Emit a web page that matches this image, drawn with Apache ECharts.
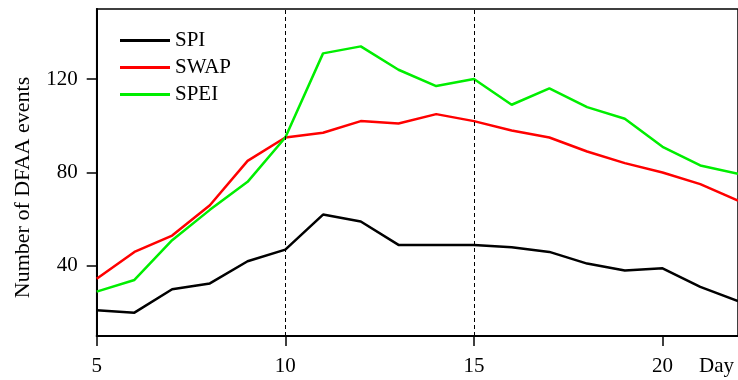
<!DOCTYPE html>
<html>
<head>
<meta charset="utf-8">
<script src="https://cdn.jsdelivr.net/npm/echarts@6/dist/echarts.min.js"></script>
<style>html,body{margin:0;padding:0;background:#fff}#c{width:738px;height:380px}</style>
</head>
<body>
<div id="c"></div>
<script>
var days = [5,6,7,8,9,10,11,12,13,14,15,16,17,18,19,20,21,22];
var spi  = [21,20,30,32.5,42,47,62,59,49,49,49,48,46,41,38,39,31,25];
var swap = [34.5,46,53,66,85,95,97,102,101,105,102,98,95,89,84,80,75,68];
var spei = [29,34,51,64,76,95,131,134,124,117,120,109,116,108,103,91,83,79.5];
var yTicks = [40,80,120];
var xTicks = [5,10,15,20];
var dashedDays = [10,15];

function pairs(vals){ return days.map(function(d,i){ return [d, vals[i]]; }); }
var FONT = "'Liberation Serif','Times New Roman',serif";
var chart = echarts.init(document.getElementById('c'), null, {renderer:'canvas'});
chart.setOption({
  animation:false,
  backgroundColor:'#fff',
  grid:{left:96.7, top:9, width:646, height:327, show:true, borderColor:'#000', borderWidth:1.5, backgroundColor:'transparent'},
  legend:{
    left:115, top:25, orient:'vertical', icon:'rect', itemWidth:50, itemHeight:3, itemGap:6,
    textStyle:{fontFamily:FONT, fontSize:21, color:'#000'},
    data:['SPI','SWAP','SPEI']
  },
  xAxis:{
    type:'value', min:5, max:22, interval:5,
    name:'Day', nameLocation:'end', nameGap:-4,
    nameTextStyle:{fontFamily:FONT, fontSize:21, color:'#000', align:'right', verticalAlign:'top', padding:[20,0,0,0]},
    axisLine:{lineStyle:{color:'#000', width:2}},
    axisTick:{length:10, lineStyle:{color:'#000', width:1.5}, customValues:xTicks},
    axisLabel:{fontFamily:FONT, fontSize:21, color:'#000', margin:20, customValues:xTicks},
    splitLine:{show:false}
  },
  yAxis:{
    type:'value', min:10, max:150,
    name:'Number of DFAA events', nameLocation:'middle', nameGap:62,
    nameTextStyle:{fontFamily:FONT, fontSize:22, color:'#000', padding:[0,30,0,0]},
    axisLine:{show:true, lineStyle:{color:'#000', width:2}},
    axisTick:{show:true, length:10, lineStyle:{color:'#000', width:1.5}, customValues:yTicks},
    axisLabel:{fontFamily:FONT, fontSize:21, color:'#000', margin:19, customValues:yTicks},
    splitLine:{show:false}
  },
  series:[
    {name:'SPI', type:'line', symbol:'none', data:pairs(spi), lineStyle:{color:'#000', width:2.5}, itemStyle:{color:'#000'},
     markLine:{silent:true, symbol:['none','none'], label:{show:false}, lineStyle:{color:'#000', type:[4,3], width:1},
       data:dashedDays.map(function(d){return {xAxis:d};})}},
    {name:'SWAP', type:'line', symbol:'none', data:pairs(swap), lineStyle:{color:'#ff0000', width:2.5}, itemStyle:{color:'#ff0000'}},
    {name:'SPEI', type:'line', symbol:'none', data:pairs(spei), lineStyle:{color:'#00ee00', width:2.5}, itemStyle:{color:'#00ee00'}}
  ]
});
</script>
</body>
</html>
